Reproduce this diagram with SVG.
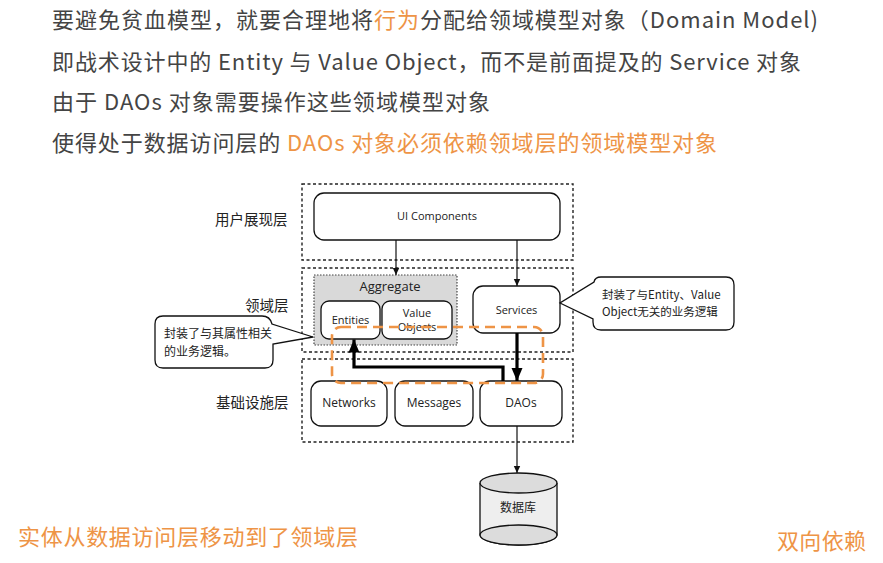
<svg xmlns="http://www.w3.org/2000/svg" width="883" height="563" viewBox="0 0 883 563">
  <style>
    .head { font-family: "Noto Sans CJK SC", "Noto Sans", sans-serif; font-size: 22px; fill: #444444; }
    .hl { fill: #ee9446; }
    .layer { fill: none; stroke: #222; stroke-width: 1.4; stroke-dasharray: 3 2.5; }
    .layer-label { font-family: "Noto Sans CJK SC", sans-serif; font-size: 14.5px; fill: #222; }
    .node { fill: #fff; stroke: #111; stroke-width: 1.3; }
    .lbl { font-family: "Open Sans", "Noto Sans", sans-serif; font-size: 11px; fill: #222; text-anchor: middle; }
    .thin { stroke: #111; stroke-width: 1.2; fill: none; marker-end: url(#ah); }
    .thick { stroke: #000; stroke-width: 3.2; fill: none; marker-end: url(#ahb); }
    .note { fill: #fff; stroke: #111; stroke-width: 1.3; }
    .note-text { font-family: "Noto Sans CJK SC", sans-serif; font-size: 12px; fill: #222; }
  </style>
  <defs>
    <marker id="ah" markerUnits="userSpaceOnUse" markerWidth="8" markerHeight="8" refX="7" refY="4" orient="auto">
      <path d="M0,0.8 L7,4 L0,7.2 Z" fill="#111"/>
    </marker>
    <marker id="ahb" markerUnits="userSpaceOnUse" markerWidth="14" markerHeight="12" refX="13" refY="6" orient="auto">
      <path d="M0,0.5 L13,6 L0,11.5 Z" fill="#000"/>
    </marker>
  </defs>

  <rect width="883" height="563" fill="#ffffff"/>

  <!-- heading lines -->
  <g id="heading">
    <text class="head" x="52" y="28" textLength="766" lengthAdjust="spacing">要避免贫血模型，就要合理地将<tspan class="hl">行为</tspan>分配给领域模型对象（Domain Model)</text>
    <text class="head" x="52" y="70" textLength="749" lengthAdjust="spacing">即战术设计中的 Entity 与 Value Object，而不是前面提及的 Service 对象</text>
    <text class="head" x="52" y="110" textLength="438" lengthAdjust="spacing">由于 DAOs 对象需要操作这些领域模型对象</text>
    <text class="head" x="52" y="151" textLength="665" lengthAdjust="spacing">使得处于数据访问层的 <tspan class="hl">DAOs 对象必须依赖领域层的领域模型对象</tspan></text>
  </g>

  <!-- layers -->
  <g id="layer-ui">
    <rect class="layer" x="302" y="184" width="271" height="76"/>
    <text class="layer-label" x="215" y="225">用户展现层</text>
  </g>
  <g id="layer-domain">
    <rect class="layer" x="302" y="268" width="271" height="84"/>
    <text class="layer-label" x="245" y="311">领域层</text>
  </g>
  <g id="layer-infra">
    <rect class="layer" x="302" y="359" width="271" height="83"/>
    <text class="layer-label" x="216" y="408">基础设施层</text>
  </g>

  <!-- nodes -->
  <g id="ui-components">
    <rect class="node" x="314" y="193" width="246" height="47" rx="10"/>
    <text class="lbl" x="437" y="220">UI Components</text>
  </g>
  <g id="aggregate">
    <rect x="314" y="275" width="143" height="70" fill="#d9d9d9" stroke="#444" stroke-width="1.2" stroke-dasharray="1.5 1.5"/>
    <text class="lbl" x="390" y="291" style="font-size:13px">Aggregate</text>
  </g>
  <g id="entities">
    <rect class="node" x="321" y="301" width="59" height="38" rx="8"/>
    <text class="lbl" x="350.5" y="324">Entities</text>
  </g>
  <g id="value-objects">
    <rect class="node" x="382" y="301" width="70" height="38" rx="8"/>
    <text class="lbl" x="417" y="317">Value</text>
    <text class="lbl" x="417" y="331">Objects</text>
  </g>
  <g id="services">
    <rect class="node" x="473" y="286" width="87" height="47" rx="10"/>
    <text class="lbl" x="516.5" y="314">Services</text>
  </g>
  <g id="networks">
    <rect class="node" x="311" y="381" width="76" height="45" rx="10"/>
    <text class="lbl" x="349" y="407" style="font-size:12px">Networks</text>
  </g>
  <g id="messages">
    <rect class="node" x="395" y="381" width="78" height="45" rx="10"/>
    <text class="lbl" x="434" y="407" style="font-size:12px">Messages</text>
  </g>
  <g id="daos">
    <rect class="node" x="480" y="381" width="82" height="45" rx="10"/>
    <text class="lbl" x="521" y="407" style="font-size:12px">DAOs</text>
  </g>
  <g id="database">
    <path d="M480,483 V535 A38.5,10 0 0 0 557,535 V483" fill="#eeeeee" stroke="#111" stroke-width="1.3"/>
    <ellipse cx="518.5" cy="535" rx="38.5" ry="10" fill="#dcdcdc" stroke="#111" stroke-width="1.3"/>
    <ellipse cx="518.5" cy="483" rx="38.5" ry="10" fill="#dcdcdc" stroke="#111" stroke-width="1.3"/>
    <text x="518" y="512" style="font-family:'Noto Sans CJK SC',sans-serif;font-size:12px;fill:#222" text-anchor="middle">数据库</text>
  </g>

  <!-- callouts -->
  <g id="note-entities">
    <path class="note" d="M163,316 H262 Q270,316 272,324 L313,337 L273,344 V360 Q273,368 265,368 H163 Q155,368 155,360 V324 Q155,316 163,316 Z"/>
    <text class="note-text" x="164" y="338">封装了与其属性相关</text>
    <text class="note-text" x="164" y="356">的业务逻辑。</text>
  </g>
  <g id="note-services">
    <path class="note" d="M601,277 H726 Q734,277 734,285 V322 Q734,330 726,330 H601 Q593,330 593,322 V319 L560,303 L594,282 Q595,277 601,277 Z"/>
    <text class="note-text" x="602" y="299" style="font-size:11.5px">封装了与Entity、Value</text>
    <text class="note-text" x="602" y="316" style="font-size:11.5px">Object无关的业务逻辑</text>
  </g>

  <!-- connectors -->
  <g id="connectors">
    <line class="thin" x1="396" y1="240" x2="396" y2="275"/>
    <line class="thin" x1="517" y1="240" x2="517" y2="286"/>
    <line class="thick" x1="517" y1="333" x2="517" y2="381"/>
    <polyline class="thick" points="503,381 503,367 354,367 354,339.5"/>
    <line class="thin" x1="517" y1="426" x2="517" y2="473"/>
  </g>

  <!-- dependency loop -->
  <g id="loop">
    <rect x="332" y="327" width="211" height="56" rx="9" fill="none" stroke="#ee9446" stroke-width="2.6" stroke-dasharray="10 6"/>
  </g>

  <!-- footer captions -->
  <g id="captions">
    <text class="head hl" x="18" y="545" textLength="340" lengthAdjust="spacing">实体从数据访问层移动到了领域层</text>
    <text class="head hl" x="777" y="549" textLength="89" lengthAdjust="spacing">双向依赖</text>
  </g>
</svg>
